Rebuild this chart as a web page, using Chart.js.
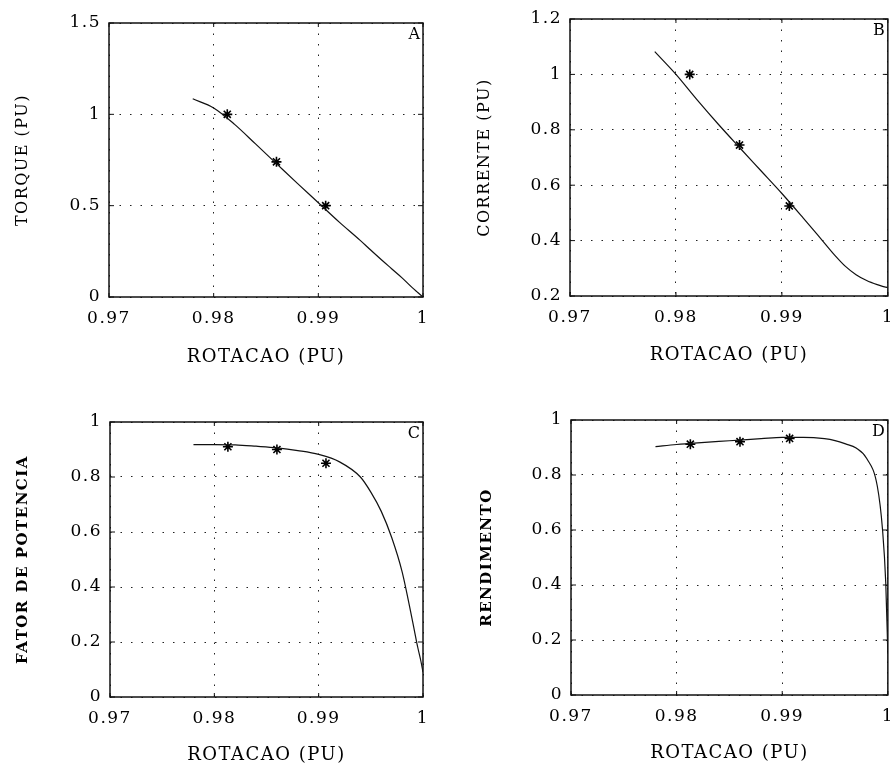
<!DOCTYPE html>
<html>
<head>
<meta charset="utf-8">
<script src="https://cdn.jsdelivr.net/npm/chart.js@4/dist/chart.umd.min.js"></script>
<style>
  html, body { margin: 0; padding: 0; background: #fff; overflow: hidden; }
  #page { position: relative; width: 890px; height: 766px; overflow: hidden; }
  canvas { position: absolute; }
</style>
</head>
<body>
<div id="page">
  <canvas id="chartA" width="445" height="383" style="left:0;top:0"></canvas>
  <canvas id="chartB" width="460" height="383" style="left:445px;top:0"></canvas>
  <canvas id="chartC" width="445" height="383" style="left:0;top:383px"></canvas>
  <canvas id="chartD" width="460" height="383" style="left:445px;top:383px"></canvas>
</div>
<script>
// pontos medidos (asteriscos)
const rotacaoMedida = [0.9813, 0.9860, 0.9907];
const torqueMedido = [1.0, 0.74, 0.5];
const correnteMedida = [1.0, 0.745, 0.525];
const fatorMedido = [0.91, 0.90, 0.85];
const rendimentoMedido = [0.912, 0.921, 0.933];

// curvas calculadas
const rotacaoCurva = [0.978, 0.980, 0.982, 0.984, 0.986, 0.988, 0.990, 0.992, 0.994, 0.995, 0.996, 0.997, 0.998, 0.999, 0.9995, 0.9998, 1.0];
const torqueCurva = [1.085, 1.035, 0.945, 0.838, 0.73, 0.622, 0.516, 0.41, 0.31, 0.257, 0.205, 0.155, 0.105, 0.05, 0.025, 0.01, 0.0];
const correnteCurva = [1.082, 1.0, 0.908, 0.82, 0.736, 0.653, 0.57, 0.482, 0.392, 0.347, 0.307, 0.277, 0.256, 0.241, 0.235, 0.232, 0.23];
const fatorCurva = [0.918, 0.918, 0.917, 0.912, 0.906, 0.896, 0.882, 0.855, 0.80, 0.745, 0.675, 0.58, 0.455, 0.275, 0.18, 0.13, 0.09];
const rendimentoCurva = [0.903, 0.911, 0.917, 0.922, 0.927, 0.932, 0.937, 0.937, 0.932, 0.925, 0.913, 0.898, 0.86, 0.76, 0.6, 0.41, 0.15];

// ticks
const rotacaoTicks = [0.97, 0.98, 0.99, 1];
const torqueTicks = [0, 0.5, 1, 1.5];
const correnteTicks = [0.2, 0.4, 0.6, 0.8, 1, 1.2];
const unitTicks = [0, 0.2, 0.4, 0.6, 0.8, 1];

const FONT = "'DejaVu Serif', 'Liberation Serif', serif";
const INK = "#000";

// letter spacing for the scanned-typewriter look
const espacamento = {
  id: "espacamento",
  beforeLayout(chart) { chart.ctx.letterSpacing = "1.5px"; },
  beforeDraw(chart) { chart.ctx.letterSpacing = "1.5px"; },
};

// solid frame, inward tick marks and panel letter
const moldura = {
  id: "moldura",
  afterDraw(chart, args, opts) {
    const { ctx, chartArea: a, scales } = chart;
    ctx.save();
    ctx.strokeStyle = "#111";
    ctx.lineWidth = 1.5;
    ctx.strokeRect(a.left, a.top, a.right - a.left, a.bottom - a.top);
    ctx.lineWidth = 1;
    ctx.beginPath();
    scales.x.ticks.forEach((t) => {
      const px = scales.x.getPixelForValue(t.value);
      ctx.moveTo(px, a.bottom); ctx.lineTo(px, a.bottom - 4);
      ctx.moveTo(px, a.top); ctx.lineTo(px, a.top + 4);
    });
    scales.y.ticks.forEach((t) => {
      const py = scales.y.getPixelForValue(t.value);
      ctx.moveTo(a.left, py); ctx.lineTo(a.left + 5, py);
      ctx.moveTo(a.right, py); ctx.lineTo(a.right - 5, py);
    });
    ctx.stroke();
    ctx.letterSpacing = "0px";
    ctx.fillStyle = INK;
    ctx.font = "16px " + FONT;
    ctx.textAlign = "right";
    ctx.textBaseline = "top";
    ctx.fillText(opts.letra, a.right - 3, a.top + 4);
    ctx.restore();
  },
};

function painel(id, p) {
  const ctx = document.getElementById(id).getContext("2d");
  return new Chart(ctx, {
    type: "scatter",
    data: {
      datasets: [
        {
          data: rotacaoCurva.map((x, i) => ({ x: x, y: p.curva[i] })),
          showLine: true,
          borderColor: "#111",
          borderWidth: 1.2,
          pointRadius: 0,
          cubicInterpolationMode: "monotone",
        },
        {
          data: rotacaoMedida.map((x, i) => ({ x: x, y: p.medido[i] })),
          showLine: false,
          pointStyle: "star",
          pointRadius: 5,
          borderColor: INK,
          backgroundColor: INK,
          borderWidth: 1.6,
        },
      ],
    },
    options: {
      responsive: false,
      animation: false,
      devicePixelRatio: 1,
      layout: { padding: { left: 0, top: p.top, right: p.right, bottom: 0 } },
      plugins: {
        legend: { display: false },
        tooltip: { enabled: false },
        moldura: { letra: p.letra },
      },
      scales: {
        x: {
          type: "linear",
          min: 0.97,
          max: 1.0,
          afterBuildTicks: (s) => { s.ticks = rotacaoTicks.map((v) => ({ value: v })); },
          afterFit: (s) => { s.height = p.xAltura; },
          ticks: {
            color: INK,
            font: { family: FONT, size: 17 },
            padding: 11,
            maxRotation: 0,
            callback: (v) => String(v),
          },
          grid: { color: "#222", lineWidth: 1, drawTicks: false },
          border: { display: false, dash: [1.5, 9] },
          title: {
            display: true,
            text: "ROTACAO (PU)",
            color: INK,
            font: { family: FONT, size: 18 },
            padding: { top: 0, bottom: p.xTitulo },
          },
        },
        y: {
          type: "linear",
          min: p.yMin,
          max: p.yMax,
          afterBuildTicks: (s) => { s.ticks = p.yTicks.map((v) => ({ value: v })); },
          afterFit: (s) => { s.width = p.yLargura; },
          ticks: {
            color: INK,
            font: { family: FONT, size: 17 },
            padding: 8,
            callback: (v) => String(v),
          },
          grid: { color: "#222", lineWidth: 1, drawTicks: false },
          border: { display: false, dash: [1.5, 9] },
          title: {
            display: true,
            text: p.yTexto,
            color: INK,
            font: { family: FONT, size: p.yTam, weight: p.yPeso },
            padding: { top: p.yTitulo, bottom: 0 },
          },
        },
      },
    },
    plugins: [espacamento, moldura],
  });
}

painel("chartA", {
  letra: "A", yTexto: "TORQUE (PU)", curva: torqueCurva, medido: torqueMedido,
  yMin: 0, yMax: 1.5, yTicks: torqueTicks, yPeso: "normal", yTam: 16,
  top: 23, right: 22, yLargura: 109, xAltura: 86, yTitulo: 13, xTitulo: 15,
});
painel("chartB", {
  letra: "B", yTexto: "CORRENTE (PU)", curva: correnteCurva, medido: correnteMedida,
  yMin: 0.2, yMax: 1.2, yTicks: correnteTicks, yPeso: "normal", yTam: 16,
  top: 19, right: 16, yLargura: 125, xAltura: 87, yTitulo: 30, xTitulo: 17,
});
painel("chartC", {
  letra: "C", yTexto: "FATOR DE POTENCIA", curva: fatorCurva, medido: fatorMedido,
  yMin: 0, yMax: 1, yTicks: unitTicks, yPeso: "bold", yTam: 15,
  top: 39, right: 22, yLargura: 110, xAltura: 69, yTitulo: 14, xTitulo: 0,
});
painel("chartD", {
  letra: "D", yTexto: "RENDIMENTO", curva: rendimentoCurva, medido: rendimentoMedido,
  yMin: 0, yMax: 1, yTicks: unitTicks, yPeso: "bold", yTam: 15,
  top: 37, right: 16, yLargura: 126, xAltura: 71, yTitulo: 33, xTitulo: 2,
});
</script>
</body>
</html>
